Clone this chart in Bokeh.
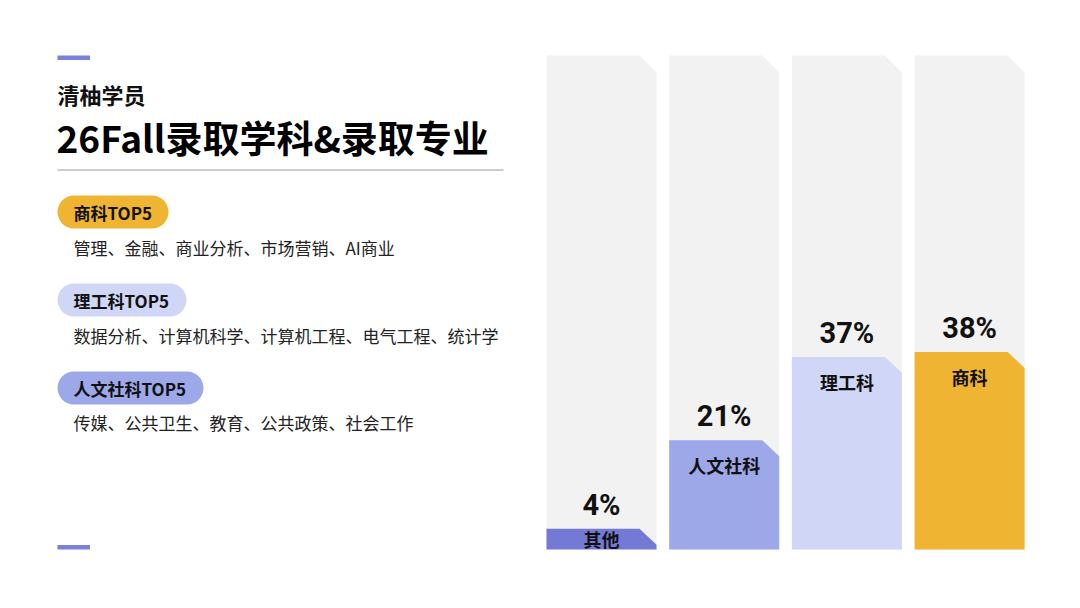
from bokeh.plotting import figure
from bokeh.models import Range1d
from bokeh.core.properties import value
from bokeh.embed import file_html
from bokeh.resources import INLINE

# ---------------- data ----------------
categories = ["其他", "人文社科", "理工科", "商科"]
shares = [4, 21, 37, 38]
bar_colors = ["#7479D6", "#9DA8E8", "#D0D6F6", "#F0B433"]

subtitle = "清柚学员"
title = "26Fall录取学科&录取专业"
groups = ["商科TOP5", "理工科TOP5", "人文社科TOP5"]
group_majors = [
    "管理、金融、商业分析、市场营销、AI商业",
    "数据分析、计算机科学、计算机工程、电气工程、统计学",
    "传媒、公共卫生、教育、公共政策、社会工作",
]
group_colors = ["#F0B433", "#D0D6F6", "#9DA8E8"]

# ---------------- layout ----------------
W, H = 1064, 592
OX, OY = 0, 0
CJK = value("Noto Sans CJK SC")

p = figure(width=W, height=H, x_range=Range1d(OX, OX + W), y_range=Range1d(OY + H, OY),
           x_axis_type=None, y_axis_type=None, output_backend="svg",
           toolbar_location=None, min_border=0)
p.outline_line_color = None
p.background_fill_color = "white"
p.border_fill_color = "white"

# percentage scale for the bars
PX_PER_PCT = 5.2
BASE_PX = 549
TRACK_TOP_PX = 55
pct_start = -(OY + H - BASE_PX) / PX_PER_PCT
p.extra_y_ranges = {"pct": Range1d(pct_start, pct_start + H / PX_PER_PCT)}
track_top = (BASE_PX - TRACK_TOP_PX) / PX_PER_PCT
cut = 16 / PX_PER_PCT

BAR_X0, BAR_STEP, BAR_W, CUT_X = 546, 122.7, 110, 17

lefts = [BAR_X0 + i * BAR_STEP for i in range(len(categories))]
centers = [l + BAR_W / 2 for l in lefts]

def clipped(left, top, c):
    r = left + BAR_W
    return [left, r - CUT_X, r, r, left], [top, top, top - c, 0, 0]

track_xs, track_ys, bar_xs, bar_ys = [], [], [], []
for l, v in zip(lefts, shares):
    xs, ys = clipped(l, track_top, 17 / PX_PER_PCT)
    track_xs.append(xs); track_ys.append(ys)
    xs, ys = clipped(l, v, cut)
    bar_xs.append(xs); bar_ys.append(ys)

p.patches(track_xs, track_ys, y_range_name="pct", fill_color="#F2F2F2", line_color=None)
p.patches(bar_xs, bar_ys, y_range_name="pct", fill_color=bar_colors, line_color=None)

p.text(x=centers, y=[v + 24 / PX_PER_PCT for v in shares], text=[f"{v}%" for v in shares],
       y_range_name="pct", text_align="center", text_baseline="middle",
       text_font=value("Roboto"), text_font_style="bold", text_font_size="29px",
       text_color="#111111")
p.text(x=centers, y=[max(v - 25 / PX_PER_PCT, v / 2) for v in shares], text=categories,
       y_range_name="pct", text_align="center", text_baseline="middle",
       text_font=CJK, text_font_style="bold", text_font_size="18px", text_color="#111111")

# ---------------- left panel ----------------
p.quad(left=[57, 57], right=[89.5, 89.5], top=[55, 544.5], bottom=[59.5, 549],
       fill_color="#7B80DB", line_color=None)

p.text(x=[57], y=[93], text=[subtitle], text_baseline="middle", text_font=CJK,
       text_font_style="bold", text_font_size="22px", text_color="#111111")
p.text(x=[56], y=[136], text=[title], text_baseline="middle", text_font=CJK,
       text_font_style="bold", text_font_size="37px", text_color="#000000")
p.segment(x0=[57], y0=[169.5], x1=[503], y1=[169.5], line_color="#9A9A9A", line_width=1)

pill_centers = [211.5, 299.5, 387.5]
pill_rights = [168, 186, 203]
major_y = [246.5, 334.5, 421.5]
p.quad(left=[57] * 3, right=pill_rights,
       top=[c - 16.5 for c in pill_centers], bottom=[c + 16.5 for c in pill_centers],
       fill_color=group_colors, line_color=None, border_radius=17)
p.text(x=[73] * 3, y=pill_centers, text=groups, text_baseline="middle", text_font=CJK,
       text_font_style="bold", text_font_size="17px", text_color="#111111")
p.text(x=[73] * 3, y=major_y, text=group_majors, text_baseline="middle", text_font=CJK,
       text_font_size="17px", text_color="#222222")

open("out.html", "w").write(file_html(p, INLINE))
